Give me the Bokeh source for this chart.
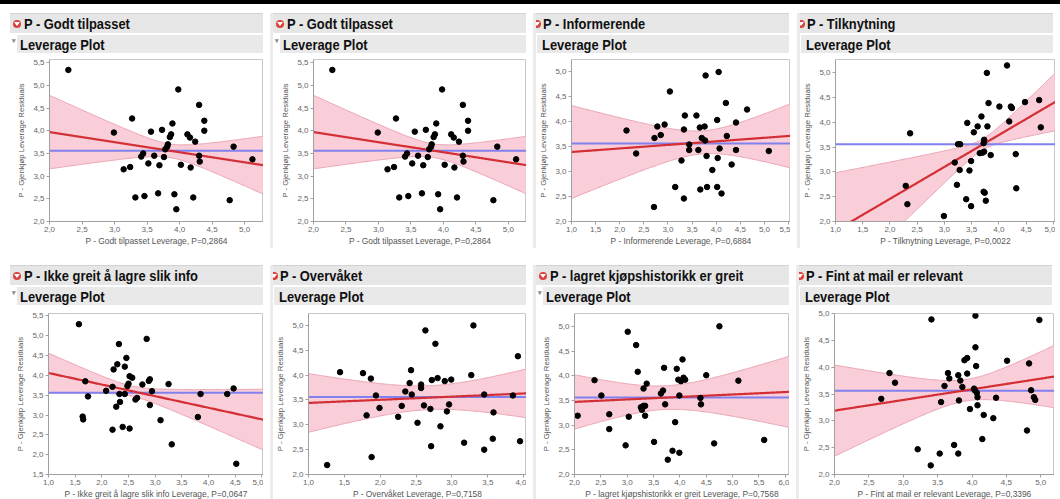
import numpy as np
from bokeh.plotting import figure
from bokeh.layouts import column, row
from bokeh.models import Div, Range1d, FixedTicker, CustomJSTickFormatter
from bokeh.embed import file_html
from bokeh.resources import INLINE

# ---------------- data ----------------
RESP_MEAN = 3.56
Y_LABEL = "P - Gjenkjøp Leverage Residuals"

# P - Godt tilpasset (panels 1 and 2)
godt_x = [2.29, 2.99, 3.27, 3.14, 3.24, 3.32, 3.46, 3.41, 3.44, 3.52, 3.56, 3.61, 3.67,
          3.69, 3.73, 3.76, 3.78, 3.81, 3.82, 3.85, 3.87, 3.89, 3.92, 3.95, 3.98, 4.02,
          4.12, 4.16, 4.17, 4.21, 4.24, 4.30, 4.30, 4.31, 4.38, 4.38, 4.77, 4.83, 5.12]
godt_y = [5.34, 3.96, 4.27, 3.15, 3.20, 2.53, 2.56, 3.43, 3.50, 3.28, 3.98, 3.45, 2.62,
          3.24, 4.02, 3.42, 3.59, 3.65, 3.70, 3.86, 3.92, 4.16, 2.60, 2.27, 4.91, 3.25,
          3.92, 3.85, 3.19, 2.53, 3.76, 4.57, 3.45, 3.32, 4.22, 4.00, 2.47, 3.65, 3.37]
godt_fit_x = [2.0, 5.29]
godt_fit_y = [3.97, 3.24]
godt_band_x = [2.0, 5.29]
godt_band_h = [0.81, 0.64]
godt_band_min = 0.15

# P - Informerende
info_x = [2.14, 2.34, 2.71, 2.72, 2.78, 2.85, 2.93, 3.04, 3.15, 3.28, 3.33, 3.33, 3.35,
          3.44, 3.44, 3.59, 3.63, 3.66, 3.67, 3.70, 3.76, 3.77, 3.78, 3.80, 3.81, 3.92,
          4.02, 4.03, 4.02, 4.05, 4.07, 4.11, 4.20, 4.22, 4.32, 4.41, 4.41, 4.64, 5.09]
info_y = [3.82, 3.36, 2.29, 3.67, 3.90, 3.73, 3.94, 4.60, 2.69, 3.22, 3.84, 2.46, 4.12,
          3.54, 3.43, 4.12, 3.43, 3.88, 2.64, 3.67, 3.90, 3.62, 4.92, 3.31, 2.69, 3.03,
          4.03, 3.27, 2.69, 4.99, 3.46, 2.56, 4.37, 3.71, 3.14, 3.98, 3.43, 4.24, 3.41]
info_fit_x = [1.0, 5.5]
info_fit_y = [3.39, 3.71]
info_band_x = [1.0, 5.6]
info_band_h = [0.93, 0.66]
info_band_min = 0.23

# P - Tilknytning
tilk_x = [2.37, 2.29, 2.32, 2.99, 3.19, 3.23, 3.25, 3.29, 3.28, 3.40, 3.42, 3.46, 3.49,
          3.49, 3.54, 3.61, 3.65, 3.68, 3.70, 3.72, 3.73, 3.73, 3.72, 3.74, 3.76, 3.78,
          3.79, 3.81, 3.85, 4.01, 4.15, 4.19, 4.22, 4.24, 4.31, 4.32, 4.48, 4.74, 4.77]
tilk_y = [3.78, 2.72, 2.35, 2.11, 3.19, 2.74, 3.56, 3.56, 3.04, 2.45, 3.99, 3.03, 3.22,
          2.31, 3.80, 3.92, 3.38, 4.12, 3.39, 3.58, 3.65, 3.41, 2.60, 2.58, 2.42, 5.00,
          3.92, 4.39, 3.34, 4.32, 5.15, 4.02, 4.32, 4.29, 3.36, 2.67, 4.41, 4.45, 3.90]
tilk_fit_x = [1.29, 5.03]
tilk_fit_y = [2.00, 4.41]
tilk_band_x = [1.0, 5.03]
tilk_band_h = [1.17, 0.58]
tilk_band_min = 0.11

# P - Ikke greit å lagre slik info
ikke_x = [1.57, 1.69, 1.74, 1.64, 1.65, 2.08, 2.20, 2.22, 2.20, 2.27, 2.29, 2.32, 2.33,
          2.34, 2.39, 2.43, 2.43, 2.46, 2.48, 2.50, 2.52, 2.52, 2.57, 2.63, 2.66, 2.76,
          2.84, 2.88, 2.90, 2.90, 2.94, 3.10, 3.25, 3.31, 3.80, 3.85, 4.35, 4.47, 4.52]
ikke_y = [5.29, 3.85, 3.47, 2.96, 2.89, 3.61, 3.71, 4.15, 2.63, 3.21, 4.28, 4.79, 3.53,
          3.33, 2.70, 3.53, 4.22, 4.44, 3.73, 3.79, 2.66, 3.98, 3.94, 3.39, 3.43, 3.77,
          4.92, 3.86, 3.90, 3.25, 3.60, 2.87, 3.78, 2.26, 2.95, 3.53, 3.53, 3.67, 1.77]
ikke_fit_x = [1.0, 5.0]
ikke_fit_y = [4.06, 2.89]
ikke_band_x = [1.0, 5.0]
ikke_band_h = [0.50, 0.76]
ikke_band_min = 0.13

# P - Overvåket
overv_x = [1.26, 1.44, 1.76, 1.81, 1.87, 1.88, 1.94, 1.99, 2.25, 2.30, 2.35, 2.41, 2.43,
           2.44, 2.52, 2.57, 2.57, 2.61, 2.63, 2.70, 2.71, 2.72, 2.77, 2.80, 2.84, 2.90,
           2.93, 2.96, 2.99, 3.17, 3.27, 3.30, 3.45, 3.45, 3.57, 3.58, 3.85, 3.92, 3.95]
overv_y = [2.19, 4.06, 4.04, 3.19, 3.93, 2.35, 3.59, 3.34, 3.16, 3.38, 3.67, 3.84, 4.10,
           3.61, 3.04, 3.81, 3.74, 3.39, 4.90, 3.32, 2.57, 3.90, 4.63, 3.94, 2.97, 3.88,
           3.27, 3.41, 3.91, 2.64, 4.00, 5.00, 3.61, 2.50, 2.72, 3.25, 3.59, 4.38, 2.67]
overv_fit_x = [1.0, 4.0]
overv_fit_y = [3.44, 3.63]
overv_band_x = [1.0, 4.0]
overv_band_h = [0.59, 0.48]
overv_band_min = 0.24

# P - lagret kjøpshistorikk er greit
lagret_x = [2.06, 2.38, 2.51, 2.66, 2.66, 2.97, 3.01, 3.03, 3.17, 3.20, 3.26, 3.28, 3.31,
            3.31, 3.34, 3.34, 3.37, 3.51, 3.64, 3.68, 3.70, 3.72, 3.77, 3.86, 3.91, 3.94,
            3.97, 3.99, 3.99, 4.02, 4.05, 4.07, 4.10, 4.39, 4.40, 4.50, 4.65, 4.75, 5.11, 5.60]
lagret_y = [3.19, 3.91, 3.60, 3.22, 2.92, 2.59, 4.89, 3.17, 4.62, 4.08, 3.36, 3.31, 3.39,
            3.74, 3.19, 3.39, 3.84, 2.66, 3.64, 3.70, 4.16, 3.42, 2.30, 2.48, 3.06, 4.14,
            3.92, 3.60, 2.44, 3.89, 4.33, 3.96, 3.92, 3.55, 3.42, 4.01, 2.63, 5.00, 3.90, 2.70]
lagret_fit_x = [2.0, 6.0]
lagret_fit_y = [3.47, 3.67]
lagret_band_x = [2.0, 6.0]
lagret_band_h = [0.55, 0.70]
lagret_band_min = 0.24

# P - Fint at mail er relevant
fint_x = [2.68, 2.80, 2.88, 3.21, 3.41, 3.40, 3.53, 3.55, 3.60, 3.65, 3.67, 3.74, 3.80,
          3.80, 3.81, 3.83, 3.86, 3.89, 3.93, 3.93, 3.97, 4.03, 4.04, 4.05, 4.05, 4.06,
          4.07, 4.08, 4.08, 4.17, 4.15, 4.31, 4.35, 4.51, 4.80, 4.83, 4.86, 4.90, 4.92, 4.98]
fint_y = [3.41, 3.89, 3.71, 2.47, 4.89, 2.17, 2.39, 3.35, 3.65, 3.89, 3.79, 2.55, 2.39,
          3.85, 3.38, 3.75, 3.63, 4.13, 4.17, 3.88, 3.22, 3.60, 3.57, 4.96, 4.37, 4.02,
          3.52, 3.29, 3.44, 3.11, 2.66, 3.05, 3.43, 4.12, 2.82, 4.07, 3.57, 3.44, 3.39, 4.88]
fint_fit_x = [2.0, 5.17]
fint_fit_y = [3.19, 3.82]
fint_band_x = [2.0, 5.17]
fint_band_h = [0.85, 0.57]
fint_band_min = 0.20

titles = ["P - Godt tilpasset", "P - Godt tilpasset", "P - Informerende", "P - Tilknytning",
          "P - Ikke greit å lagre slik info", "P - Overvåket",
          "P - lagret kjøpshistorikk er greit", "P - Fint at mail er relevant"]
x_labels = ["P - Godt tilpasset Leverage, P=0,2864", "P - Godt tilpasset Leverage, P=0,2864",
            "P - Informerende Leverage, P=0,6884", "P - Tilknytning Leverage, P=0,0022",
            "P - Ikke greit å lagre slik info Leverage, P=0,0647",
            "P - Overvåket Leverage, P=0,7158",
            "P - lagret kjøpshistorikk er greit Leverage, P=0,7568",
            "P - Fint at mail er relevant Leverage, P=0,3396"]

# ---------------- styling / layout ----------------
PW = 253
FONT = "Liberation Sans"
RED = "#d42f35"
BLUE = "#8080ee"
BAND_FILL = "#f8c9d4"
BAND_EDGE = "#e9a3b1"


def band_curve(x0, x1, fit_x, fit_y, band_x, band_h, band_min):
    slope = (fit_y[1] - fit_y[0]) / (fit_x[1] - fit_x[0])
    xx = np.linspace(x0, x1, 200)
    center = fit_y[0] + slope * (xx - fit_x[0])
    a = np.sqrt(band_h[0] ** 2 - band_min ** 2)
    b = np.sqrt(band_h[1] ** 2 - band_min ** 2)
    sk = (a + b) / (band_x[1] - band_x[0])
    xc = band_x[0] + a / sk
    half = np.sqrt(band_min ** 2 + (sk * (xx - xc)) ** 2)
    return xx, center, center - half, center + half


def header1(title, full):
    if full:
        icon_style = "margin:0 3px 0 3px;"
    else:
        icon_style = "margin:0 2px 0 -3px;"
    icon = ('<span style="display:inline-block;position:relative;width:8px;height:8px;'
            'border-radius:4px;background:#d8413c;vertical-align:middle;' + icon_style + '">'
            '<span style="position:absolute;left:1px;top:2px;width:0;height:0;'
            'border-left:3px solid transparent;border-right:3px solid transparent;'
            'border-top:4px solid #fff;"></span></span>')
    txt = ('<span style="display:inline-block;transform:scaleX(0.86);transform-origin:0 50%;'
           'white-space:nowrap;vertical-align:middle;">' + title + '</span>')
    return Div(text=icon + txt, width=PW, height=20, margin=0,
               styles={"background-color": "#e6e6e6", "font-family": FONT,
                       "font-weight": "bold", "font-size": "15px", "line-height": "20px",
                       "color": "#111", "box-shadow": "inset 0 1px 0 #d2d2d2",
                       "overflow": "hidden", "white-space": "nowrap"})


def header2(full):
    off = 7 if full else 1
    txt_off = 3 if full else 5
    mark = ''
    if full:
        mark = ('<span style="display:inline-block;width:7px;font-size:7px;color:#8a8a8a;'
                'text-align:center;vertical-align:top;line-height:12px;">&#9662;</span>')
    else:
        mark = '<span style="display:inline-block;width:1px;"></span>'
    txt = (mark + '<span style="display:inline-block;margin-left:%dpx;transform:scaleX(0.86);'
           'transform-origin:0 50%%;white-space:nowrap;vertical-align:middle;">Leverage Plot</span>'
           % txt_off)
    return Div(text=txt, width=PW, height=18, margin=0,
               styles={"background": "linear-gradient(to right, #ffffff 0, #ffffff %dpx, #e9e9e9 %dpx)" % (off, off),
                       "font-family": FONT, "font-weight": "bold", "font-size": "15px",
                       "line-height": "18px", "color": "#111", "overflow": "hidden",
                       "white-space": "nowrap"})


def make_fig(xs, ys, xlabel, fit_x, fit_y, band_x, band_h, band_min,
             xr, yr, xticks, yticks, bl, bt, fh, bb):
    p = figure(frame_width=PW - bl, frame_height=fh, min_border_left=bl, min_border_right=0,
               min_border_top=bt, min_border_bottom=bb,
               x_range=Range1d(*xr), y_range=Range1d(*yr),
               output_backend="svg", toolbar_location=None, margin=0,
               background_fill_color="white", border_fill_color="white")
    p.xgrid.visible = False
    p.ygrid.visible = False
    p.outline_line_color = "#c8c8c8"
    xx, c, lo, hi = band_curve(xr[0], xr[1], fit_x, fit_y, band_x, band_h, band_min)
    p.varea(x=xx, y1=lo, y2=hi, fill_color=BAND_FILL, fill_alpha=0.9)
    p.line(xx, lo, line_color=BAND_EDGE, line_width=1)
    p.line(xx, hi, line_color=BAND_EDGE, line_width=1)
    p.line([xr[0], xr[1]], [RESP_MEAN, RESP_MEAN], line_color=BLUE, line_width=2)
    p.line(xx, c, line_color=RED, line_width=2.2)
    p.scatter(xs, ys, size=5.5, color="black")
    fmt = CustomJSTickFormatter(code="return tick.toFixed(1).replace('.', ',');")
    p.xaxis.ticker = FixedTicker(ticks=xticks)
    p.yaxis.ticker = FixedTicker(ticks=yticks)
    p.xaxis.formatter = fmt
    p.yaxis.formatter = fmt
    p.xaxis.axis_label = xlabel
    p.yaxis.axis_label = Y_LABEL
    for ax in (p.xaxis[0], p.yaxis[0]):
        ax.major_label_text_font = FONT
        ax.major_label_text_font_size = "8px"
        ax.major_label_text_color = "#666666"
        ax.axis_label_text_font = FONT
        ax.axis_label_text_font_style = "normal"
        ax.axis_label_text_color = "#555555"
        ax.axis_line_color = "#a0a0a0"
        ax.major_tick_line_color = "#a0a0a0"
        ax.major_tick_out = 3
        ax.major_tick_in = 0
        ax.minor_tick_line_color = None
        ax.major_label_standoff = 2
    p.xaxis.axis_label_text_font_size = "8.4px"
    p.yaxis.axis_label_text_font_size = "7.8px"
    p.xaxis.axis_label_standoff = 1
    p.yaxis.axis_label_standoff = 4
    return p


def ticks(a, b):
    n = int(round((b - a) / 0.5))
    return [round(a + 0.5 * i, 1) for i in range(n + 1)]


specs = [
    (godt_x, godt_y, godt_fit_x, godt_fit_y, godt_band_x, godt_band_h, godt_band_min,
     (2.0, 5.29), (2.0, 5.57), ticks(2.0, 5.0), ticks(2.0, 5.5), 39, True),
    (godt_x, godt_y, godt_fit_x, godt_fit_y, godt_band_x, godt_band_h, godt_band_min,
     (2.0, 5.28), (2.0, 5.57), ticks(2.0, 5.0), ticks(2.0, 5.5), 40, True),
    (info_x, info_y, info_fit_x, info_fit_y, info_band_x, info_band_h, info_band_min,
     (1.0, 5.54), (2.0, 5.24), ticks(1.0, 5.5), ticks(2.0, 5.0), 34, False),
    (tilk_x, tilk_y, tilk_fit_x, tilk_fit_y, tilk_band_x, tilk_band_h, tilk_band_min,
     (1.0, 5.04), (2.0, 5.27), ticks(1.0, 5.0), ticks(2.0, 5.0), 33, False),
    (ikke_x, ikke_y, ikke_fit_x, ikke_fit_y, ikke_band_x, ikke_band_h, ikke_band_min,
     (1.0, 5.03), (1.5, 5.56), ticks(1.0, 5.0), ticks(1.5, 5.5), 38, True),
    (overv_x, overv_y, overv_fit_x, overv_fit_y, overv_band_x, overv_band_h, overv_band_min,
     (1.0, 4.04), (2.0, 5.24), ticks(1.0, 4.0), ticks(2.0, 5.0), 35, False),
    (lagret_x, lagret_y, lagret_fit_x, lagret_fit_y, lagret_band_x, lagret_band_h, lagret_band_min,
     (2.0, 6.08), (2.0, 5.26), ticks(2.0, 6.0), ticks(2.0, 5.0), 38, True),
    (fint_x, fint_y, fint_fit_x, fint_fit_y, fint_band_x, fint_band_h, fint_band_min,
     (2.0, 5.20), (2.0, 5.0), ticks(2.0, 5.0), ticks(2.0, 5.0), 33, False),
]

panels = []
for i, s in enumerate(specs):
    (xs, ys, fx, fy, bx, bh, bm, xr, yr, xt, yt, bl, full) = s
    if i < 4:
        bt, fh, bb = 4, 162, 24
    else:
        bt, fh, bb = 6, 161, 24
    fig = make_fig(xs, ys, x_labels[i], fx, fy, bx, bh, bm, xr, yr, xt, yt, bl, bt, fh, bb)
    st = {} if i % 4 == 0 else {"box-shadow": "-3px 0 0 #ebebeb"}
    panels.append(column(header1(titles[i], full), header2(full), fig, spacing=2, margin=0,
                         styles=st))

black_bar = Div(text="", width=1060, height=4, margin=0, styles={"background-color": "#000"})
top = row(*panels[:4], spacing=10, margin=(9, 0, 0, 10))
bottom = row(*panels[4:], spacing=10, margin=(17, 0, 0, 10))
page = column(black_bar, top, bottom, spacing=0, margin=0)

open("out.html", "w").write(file_html(page, INLINE))
